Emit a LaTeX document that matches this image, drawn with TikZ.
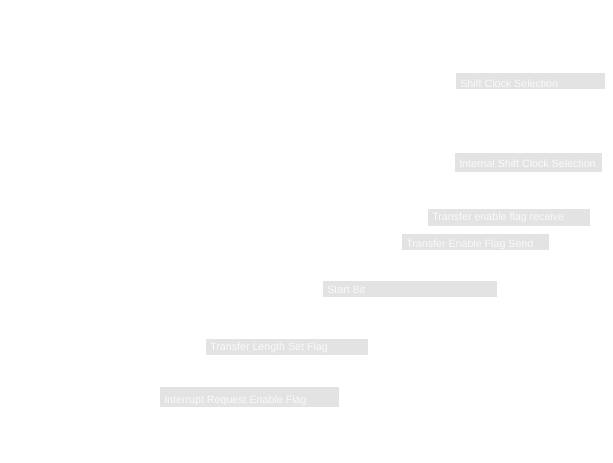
\documentclass[tikz,border=0pt]{standalone}
\usepackage{fontspec}
\setmainfont{Liberation Sans}
\definecolor{boxgray}{HTML}{E3E3E3}
\definecolor{txtwhite}{HTML}{FAFAFA}
\tikzset{
  boxfill/.style={fill=boxgray},
  lbl/.style={anchor=base west, inner sep=0pt, text=txtwhite, font=\fontsize{8}{9}\selectfont}
}
\begin{document}
\begin{tikzpicture}[x=0.75pt,y=-0.75pt]
\useasboundingbox (0,0) rectangle (613,462);
\fill[white] (0,0) rectangle (613,462);
\fill[boxfill] (456,73) rectangle (605,89);
\node[lbl] (scs) at (460,87) {Shift Clock Selection};
\fill[boxfill] (455,153) rectangle (602,172);
\node[lbl] (iscs) at (459,167) {Internal Shift Clock Selection};
\fill[boxfill] (428,209) rectangle (590,226);
\node[lbl] (tefr) at (432,220) {Transfer enable flag receive};
\fill[boxfill] (402,234) rectangle (549,250);
\node[lbl] (tefs) at (406,247) {Transfer Enable Flag Send};
\fill[boxfill] (323,281) rectangle (497,297);
\node[lbl] (sb) at (327,293) {Start Bit};
\fill[boxfill] (206,339) rectangle (368,355);
\node[lbl] (tlsf) at (210,350) {Transfer Length Set Flag};
\fill[boxfill] (160,387) rectangle (339,407);
\node[lbl] (iref) at (164,403) {Interrupt Request Enable Flag};
\end{tikzpicture}
\end{document}
